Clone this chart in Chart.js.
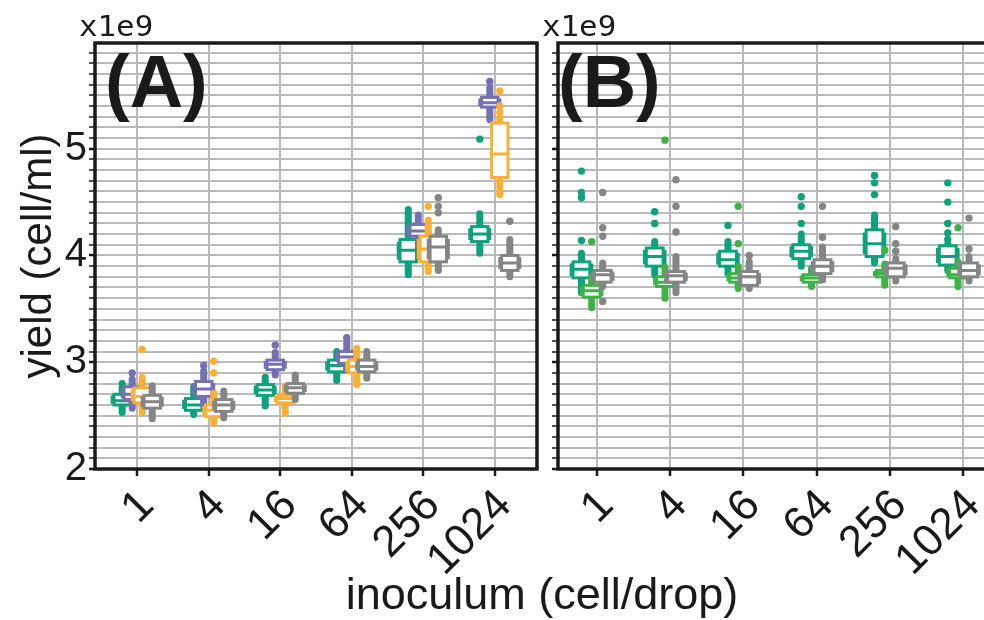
<!DOCTYPE html>
<html>
<head>
<meta charset="utf-8">
<script src="https://cdn.jsdelivr.net/npm/chart.js@4.4.1/dist/chart.umd.min.js"></script>
<style>
  body { margin:0; width:984px; height:620px; overflow:hidden; background:#fff; position:relative;
         font-family:"Liberation Sans", Arial, sans-serif; color:#1a1a1a; }
  #wrapA { position:absolute; left:0; top:0; width:545px; height:620px; }
  #wrapB { position:absolute; left:520px; top:0; width:500px; height:620px; }
  .lbl { position:absolute; white-space:nowrap; line-height:1; }
  .exp { font-family:"DejaVu Sans Mono", monospace; font-size:28px; transform:scaleX(1.1); transform-origin:left top; top:13px; }
  .panel { font-weight:bold; font-size:74px; top:45px; }
  #xtitle { font-size:45px; left:0; width:1084px; text-align:center; top:571px; }
</style>
</head>
<body>
<div id="wrapA"><canvas id="chartA"></canvas></div>
<div id="wrapB"><canvas id="chartB"></canvas></div>
<div class="lbl exp" style="left:79px">x1e9</div>
<div class="lbl exp" style="left:542px">x1e9</div>
<div class="lbl panel" style="left:105px">(A)</div>
<div class="lbl panel" style="left:558px">(B)</div>
<div class="lbl" id="xtitle">inoculum (cell/drop)</div>
<script>
// inoculum categories
const categories = ['1', '4', '16', '64', '256', '1024'];
// y ticks every 0.1e9, labelled at whole numbers
const yTicks = [];
for (let v = 20; v <= 59; v++) yTicks.push(v / 10);

// five number summaries per category: [low whisker, q1, median, q3, high whisker]  (x1e9 cell/ml)
// panel A
const aTeal   = [[2.53,2.60,2.64,2.70,2.80],[2.51,2.55,2.60,2.66,2.77],[2.59,2.69,2.74,2.79,2.86],[2.83,2.91,2.97,3.02,3.10],[3.82,3.94,4.05,4.15,4.43],[4.02,4.13,4.20,4.27,4.39]];
const aPurple = [[2.57,2.65,2.70,2.77,2.84],[2.60,2.68,2.75,2.82,2.92],[2.88,2.93,2.98,3.02,3.09],[2.93,2.99,3.05,3.10,3.18],[4.10,4.18,4.23,4.29,4.38],[5.27,5.39,5.43,5.48,5.57]];
const aOrange = [[2.53,2.62,2.68,2.76,2.86],[2.43,2.49,2.55,2.60,2.71],[2.52,2.62,2.66,2.69,2.77],[2.79,2.90,2.96,3.02,3.13],[3.85,3.94,4.06,4.18,4.33],[4.64,4.73,4.95,5.24,5.29]];
const aGray   = [[2.47,2.57,2.63,2.69,2.78],[2.48,2.54,2.60,2.65,2.73],[2.65,2.71,2.76,2.80,2.88],[2.85,2.91,2.96,3.02,3.10],[3.86,3.94,4.08,4.18,4.24],[3.80,3.86,3.93,4.00,4.15]];
// outliers
const aTealOut   = [[],[],[],[],[],[5.09]];
const aPurpleOut = [[2.90],[2.97],[3.16],[3.23],[],[5.63]];
const aOrangeOut = [[3.12],[2.90,3.01],[],[],[4.46],[4.57,4.60,5.34,5.40,5.54]];
const aGrayOut   = [[],[],[],[],[4.40,4.46,4.54],[4.32]];

// panel B
const bTeal  = [[3.65,3.79,3.87,3.94,4.02],[3.82,3.90,3.99,4.07,4.13],[3.83,3.90,3.96,4.04,4.13],[3.90,3.97,4.04,4.10,4.20],[3.93,3.99,4.11,4.24,4.38],[3.86,3.91,3.99,4.09,4.11]];
const bGreen = [[3.51,3.61,3.67,3.72,3.80],[3.60,3.71,3.75,3.80,3.89],[3.69,3.75,3.79,3.83,3.90],[3.71,3.75,3.79,3.82,3.88],[3.72,3.80,3.83,3.86,3.92],[3.71,3.79,3.82,3.88,3.94]];
const bGray  = [[3.71,3.75,3.82,3.86,3.93],[3.65,3.75,3.81,3.85,3.99],[3.69,3.72,3.80,3.85,3.94],[3.77,3.83,3.90,3.96,4.08],[3.76,3.80,3.88,3.93,3.97],[3.76,3.80,3.86,3.93,3.99]];
const bTealOut  = [[4.14,4.54,4.59,4.79],[4.30,4.41],[4.28],[4.30,4.46,4.55],[4.57,4.68,4.75],[4.15,4.21,4.30,4.50,4.68]];
const bGreenOut = [[4.13],[5.08],[4.11,4.46],[],[4.05],[4.26]];
const bGrayOut  = [[3.57,4.18,4.26,4.59],[4.22,4.46,4.71],[4.00],[4.17,4.46],[4.04,4.11,4.27],[4.06,4.35]];

const TEAL = '#0ea27c', PURPLE = '#7470b4', ORANGE = '#fbb034', GRAY = '#858585', GREEN = '#3db346';
const GRID = '#bababa', INK = '#1a1a1a';

const groupsA = [
  { stats: aTeal,   out: aTealOut,   color: TEAL,   offset: -0.21 },
  { stats: aPurple, out: aPurpleOut, color: PURPLE, offset: -0.07 },
  { stats: aOrange, out: aOrangeOut, color: ORANGE, offset: 0.07 },
  { stats: aGray,   out: aGrayOut,   color: GRAY,   offset: 0.21 }
];
const groupsB = [
  { stats: bTeal,  out: bTealOut,  color: TEAL,  offset: -0.21 },
  { stats: bGreen, out: bGreenOut, color: GREEN, offset: -0.07 },
  { stats: bGray,  out: bGrayOut,  color: GRAY,  offset: 0.08 }
];

// boxes + whiskers, drawn through the chart scales
const boxPlugin = {
  id: 'boxes',
  beforeDatasetsDraw(chart, args, opts) {
    const { ctx, chartArea } = chart;
    const xs = chart.scales.x, ys = chart.scales.y;
    const half = (xs.getPixelForValue(opts.width) - xs.getPixelForValue(0)) / 2;
    ctx.save();
    ctx.beginPath();
    ctx.rect(chartArea.left, chartArea.top, chartArea.width, chartArea.height);
    ctx.clip();
    opts.groups.forEach(g => {
      g.stats.forEach((s, i) => {
        const cx = xs.getPixelForValue(i + g.offset);
        const [lo, q1, med, q3, hi] = s.map(v => ys.getPixelForValue(v));
        ctx.strokeStyle = g.color;
        ctx.fillStyle = g.color;
        // whisker (dense stack of points)
        ctx.lineWidth = 7;
        ctx.lineCap = 'round';
        ctx.beginPath();
        ctx.moveTo(cx, lo);
        ctx.lineTo(cx, hi);
        ctx.stroke();
        // side wings of the point cloud
        const h = q1 - q3;
        if (h < 40) {
          ctx.fillRect(cx - half * 1.4, q3 + h * 0.1, half * 2.8, h * 0.8);
        }
        // box
        ctx.lineWidth = 3;
        ctx.fillStyle = '#fff';
        ctx.fillRect(cx - half, q3, half * 2, h);
        ctx.strokeRect(cx - half, q3, half * 2, h);
        ctx.beginPath();
        ctx.moveTo(cx - half, med);
        ctx.lineTo(cx + half, med);
        ctx.stroke();
      });
    });
    ctx.restore();
  }
};

const framePlugin = {
  id: 'frame',
  afterDatasetsDraw(chart) {
    const { ctx, chartArea } = chart;
    ctx.save();
    ctx.strokeStyle = INK;
    ctx.lineWidth = 3.5;
    ctx.strokeRect(chartArea.left, chartArea.top, chartArea.width, chartArea.height);
    ctx.restore();
  }
};

function outlierSets(groups) {
  return groups.map(g => {
    const pts = [];
    g.out.forEach((vals, i) => vals.forEach(v => pts.push({ x: i + g.offset, y: v })));
    return { data: pts, backgroundColor: g.color, borderWidth: 0, pointRadius: 3.7 };
  });
}

function makeChart(id, groups, xMin, xMax, yAxisWidth, showYLabels, padRight) {
  return new Chart(document.getElementById(id), {
    type: 'scatter',
    data: { datasets: outlierSets(groups) },
    plugins: [boxPlugin, framePlugin],
    options: {
      responsive: true,
      maintainAspectRatio: false,
      animation: false,
      layout: { padding: { top: 43, right: padRight, left: 0, bottom: 0 } },
      plugins: {
        legend: { display: false },
        tooltip: { enabled: false },
        boxes: { groups: groups, width: 0.23 }
      },
      scales: {
        x: {
          type: 'linear',
          min: xMin,
          max: xMax,
          afterBuildTicks: s => { s.ticks = categories.map((c, i) => ({ value: i })); },
          afterFit: s => { s.height = 151; s.paddingLeft = 0; s.paddingRight = 0; },
          border: { display: false },
          grid: { color: GRID, lineWidth: 2, tickLength: 7, tickColor: INK, tickWidth: 2.5 },
          ticks: {
            autoSkip: false,
            maxRotation: 45,
            minRotation: 45,
            padding: 4,
            labelOffset: 10,
            color: INK,
            font: { family: 'Liberation Sans', size: 44 },
            callback: (v, i) => categories[i]
          }
        },
        y: {
          type: 'linear',
          min: 2,
          max: 5.99,
          afterBuildTicks: s => { s.ticks = yTicks.map(v => ({ value: v })); },
          afterFit: s => { s.width = yAxisWidth; s.paddingTop = 0; s.paddingBottom = 0; },
          border: { display: false },
          grid: {
            color: GRID, lineWidth: 2, tickLength: 6, tickColor: INK,
            tickWidth: c => (Math.abs(c.tick.value - Math.round(c.tick.value)) < 1e-6 ? 2.5 : 1.5)
          },
          ticks: {
            autoSkip: false,
            padding: 2,
            color: INK,
            font: { family: 'Liberation Sans', size: 40 },
            callback: v => (showYLabels && Math.abs(v - Math.round(v)) < 1e-6 ? String(Math.round(v)) : '')
          },
          title: {
            display: showYLabels,
            text: 'yield (cell/ml)',
            color: INK,
            font: { family: 'Liberation Sans', size: 42 },
            padding: { top: 14, bottom: 0 }
          }
        }
      }
    }
  });
}

makeChart('chartA', groupsA, -0.59, 5.59, 95, true, 8);
makeChart('chartB', groupsB, -0.53, 5.53, 38, false, 18);
</script>
</body>
</html>
